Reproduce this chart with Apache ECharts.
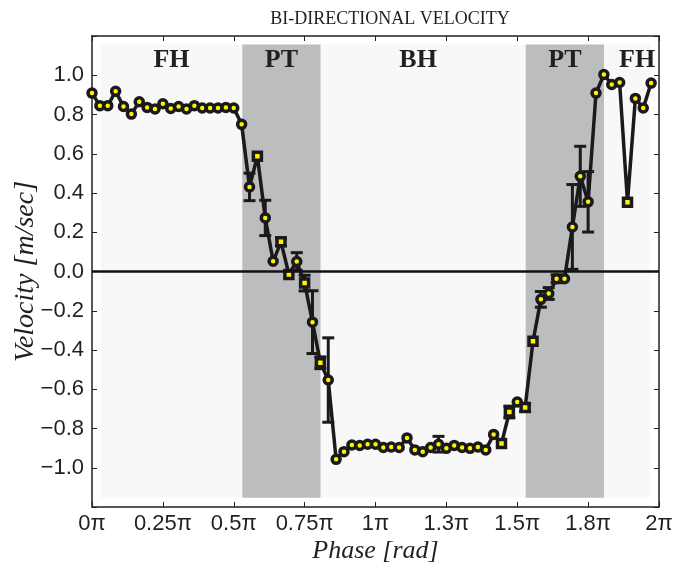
<!DOCTYPE html>
<html>
<head>
<meta charset="utf-8">
<script src="https://cdn.jsdelivr.net/npm/echarts@6/dist/echarts.min.js"></script>
<style>html,body{margin:0;padding:0;background:#fff}#c{width:673px;height:567px}</style>
</head>
<body>
<div id="c"></div>
<script>
// Phase in units of pi (72 samples over one cycle)
const sampleCount = 72;
const velocity = [
  0.909, 0.845, 0.845, 0.918, 0.841, 0.802, 0.865, 0.836, 0.828, 0.855,
  0.831, 0.841, 0.828, 0.845, 0.833, 0.833, 0.833, 0.836, 0.833, 0.750,
  0.431, 0.587, 0.273, 0.052, 0.151, -0.015, 0.051, -0.059, -0.258, -0.465,
  -0.553, -0.957, -0.918, -0.884, -0.886, -0.880, -0.880, -0.897, -0.894, -0.897,
  -0.848, -0.909, -0.918, -0.897, -0.880, -0.901, -0.886, -0.897, -0.901, -0.894,
  -0.909, -0.830, -0.877, -0.716, -0.665, -0.693, -0.356, -0.142, -0.112, -0.037,
  -0.037, 0.227, 0.485, 0.355, 0.909, 1.004, 0.953, 0.963, 0.353, 0.882,
  0.833, 0.960
];
const errorHalf = [
  0, 0, 0, 0, 0, 0, 0, 0, 0, 0,
  0, 0, 0, 0, 0, 0, 0, 0, 0, 0,
  0.07, 0, 0.09, 0, 0.02, 0, 0.045, 0.04, 0.16, 0.03,
  0.215, 0, 0, 0, 0, 0, 0, 0, 0, 0,
  0, 0, 0, 0, 0.04, 0, 0, 0, 0, 0,
  0, 0, 0, 0.03, 0, 0.02, 0, 0.04, 0.03, 0.02,
  0, 0.216, 0.153, 0.154, 0, 0, 0, 0, 0, 0,
  0, 0
];
const squareMarkers = [21, 24, 25, 27, 29, 52, 53, 55, 56, 68];
const xTickLabels = ['0π', '0.25π', '0.5π', '0.75π', '1π', '1.3π', '1.5π', '1.8π', '2π'];
const yTickLabels = ['−1.0', '−0.8', '−0.6', '−0.4', '−0.2', '0.0', '0.2', '0.4', '0.6', '0.8', '1.0'];
// phase regions (units of pi)
const regionNames = ['FH', 'PT', 'BH', 'PT', 'FH'];
const regionBounds = [0.0305, 0.530, 0.806, 1.530, 1.806, 1.969];
const regionLabelShift = [0, 0, -5, 0, 10];

const phase = velocity.map((v, i) => i * 2 / sampleCount);
const lineData = velocity.map((v, i) => ({
  value: [phase[i], v],
  symbol: squareMarkers.includes(i) ? 'rect' : 'circle'
}));
const errData = [];
velocity.forEach((v, i) => { if (errorHalf[i] > 0) errData.push([phase[i], v - errorHalf[i], v + errorHalf[i]]); });

const areaTop = 1.157, areaBottom = -1.153;
const bgAreas = [[{ xAxis: regionBounds[0], yAxis: areaTop }, { xAxis: regionBounds[5], yAxis: areaBottom }]];
const ptAreas = [];
const labelAreas = [];
for (let r = 0; r < regionNames.length; r++) {
  const a = { xAxis: regionBounds[r], yAxis: areaTop,
    label: { offset: [regionLabelShift[r], 0] } };
  const b = { xAxis: regionBounds[r + 1], yAxis: areaBottom };
  labelAreas.push([Object.assign({ name: regionNames[r] }, a), b]);
  if (regionNames[r] === 'PT') ptAreas.push([{ xAxis: regionBounds[r], yAxis: areaTop }, b]);
}

const serif = '"Liberation Serif", "Times New Roman", serif';
const sans = '"Liberation Sans", Arial, sans-serif';
const ink = '#231f20';

const chart = echarts.init(document.getElementById('c'));
chart.setOption({
  animation: false,
  backgroundColor: '#fff',
  title: {
    text: 'BI-DIRECTIONAL VELOCITY', left: 385, top: 5, textAlign: 'center',
    textStyle: { fontFamily: serif, fontWeight: 'normal', fontSize: 18, color: ink }
  },
  grid: { left: 92, right: 14, top: 36, bottom: 60, containLabel: false, outerBoundsMode: 'none' },
  xAxis: [{
    type: 'value', min: 0, max: 2, interval: 0.25,
    name: 'Phase [rad]', nameLocation: 'middle', nameGap: 31, nameMoveOverlap: false,
    nameTextStyle: { fontFamily: serif, fontStyle: 'italic', fontSize: 26, color: ink },
    axisLine: { onZero: false, lineStyle: { color: ink, width: 1.5 } },
    axisTick: { inside: true, length: 5, lineStyle: { color: ink, width: 1 } },
    axisLabel: { margin: 6, fontFamily: sans, fontSize: 22, color: ink,
      formatter: v => xTickLabels[Math.round(v / 0.25)] },
    splitLine: { show: false }
  }, {
    type: 'value', min: 0, max: 2, interval: 0.25, position: 'top',
    axisLine: { onZero: false, lineStyle: { color: ink, width: 1.5 } },
    axisTick: { inside: true, length: 5, lineStyle: { color: ink, width: 1 } },
    axisLabel: { show: false }, splitLine: { show: false }
  }],
  yAxis: [{
    type: 'value', min: -1.2, max: 1.2, interval: 0.2,
    name: 'Velocity [m/sec]', nameLocation: 'middle', nameGap: 52, nameMoveOverlap: false,
    nameTextStyle: { fontFamily: serif, fontStyle: 'italic', fontSize: 28, color: ink },
    axisLine: { onZero: false, lineStyle: { color: ink, width: 1.5 } },
    axisTick: { inside: true, length: 5, lineStyle: { color: ink, width: 1 } },
    axisLabel: { margin: 8, fontFamily: sans, fontSize: 22, color: ink,
      formatter: v => { const k = Math.round((v + 1.0) / 0.2); return (k >= 0 && k < yTickLabels.length) ? yTickLabels[k] : ''; } },
    splitLine: { show: false }
  }, {
    type: 'value', min: -1.2, max: 1.2, interval: 0.2, position: 'right',
    axisLine: { onZero: false, lineStyle: { color: ink, width: 1.5 } },
    axisTick: { inside: true, length: 5, lineStyle: { color: ink, width: 1 } },
    axisLabel: { show: false }, splitLine: { show: false }
  }],
  series: [
    {
      type: 'line', data: [], z: 1, silent: true,
      markArea: { silent: true, itemStyle: { color: '#f8f8f8' }, data: bgAreas }
    },
    {
      type: 'line', data: [], z: 1, silent: true,
      markArea: { silent: true, itemStyle: { color: '#bcbdbf' }, data: ptAreas }
    },
    {
      type: 'line', data: [], z: 2, silent: true,
      markArea: {
        silent: true, itemStyle: { color: 'rgba(0,0,0,0)' },
        label: { show: true, position: 'insideTop', distance: 3, fontFamily: serif, fontWeight: 'bold', fontSize: 26, color: ink },
        data: labelAreas
      },
      markLine: {
        silent: true, symbol: 'none', label: { show: false },
        lineStyle: { color: '#111', width: 2.5, type: 'solid' },
        data: [{ yAxis: 0 }]
      }
    },
    {
      type: 'custom', z: 3, silent: true,
      data: errData,
      renderItem: (params, api) => {
        const x = api.value(0);
        const lo = api.coord([x, api.value(1)]);
        const hi = api.coord([x, api.value(2)]);
        const w = 6;
        const style = { stroke: '#1a1a1a', lineWidth: 3 };
        return { type: 'group', children: [
          { type: 'line', shape: { x1: lo[0], y1: lo[1], x2: hi[0], y2: hi[1] }, style },
          { type: 'line', shape: { x1: lo[0] - w, y1: lo[1], x2: lo[0] + w, y2: lo[1] }, style },
          { type: 'line', shape: { x1: hi[0] - w, y1: hi[1], x2: hi[0] + w, y2: hi[1] }, style }
        ] };
      }
    },
    {
      type: 'line', z: 4, data: lineData,
      symbolSize: 8, showAllSymbol: true,
      lineStyle: { color: '#1a1a1a', width: 3.5 },
      itemStyle: { color: '#fff200', borderColor: '#1a1a1a', borderWidth: 3.5 }
    }
  ]
});
</script>
</body>
</html>
